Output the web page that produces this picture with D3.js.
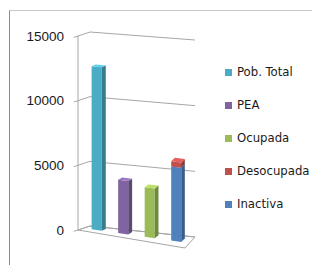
<!DOCTYPE html>
<html lang="es">
<head>
<meta charset="UTF-8">
<title>Poblacion</title>
<script src="https://d3js.org/d3.v7.min.js"></script>
<style>
    body { margin: 0; background: #fff; }
    .grid { stroke: #a6a6a6; stroke-width: 1; fill: none; }
    .tick-label { font-family: "Liberation Sans", Arial, sans-serif; font-size: 13.5px; fill: #1a1a1a; }
    .legend text { font-family: "DejaVu Sans Condensed", "DejaVu Sans", sans-serif; font-size: 13px; fill: #1a1a1a; }
</style>
</head>
<body>
<svg width="312" height="265"></svg>
<script>
    // data
    const series = ["Pob. Total", "PEA", "Ocupada", "Desocupada", "Inactiva"];
    const values = [12600, 4100, 3800, 400, 5650];
    const slots = ["Pob. Total", "PEA", "Ocupada", "Inactiva"];
    const slotOf = ["Pob. Total", "PEA", "Ocupada", "Inactiva", "Inactiva"];
    const stackOrder = ["Pob. Total", "PEA", "Ocupada", "Inactiva", "Desocupada"];
    const ticks = [0, 5000, 10000, 15000];
    const colors = ["#4bacc6", "#8064a2", "#9bbb59", "#c0504d", "#4f81bd"];

    const svg = d3.select("svg");

    // outer frame
    svg.append("line").attr("x1", 9.5).attr("y1", 10.5).attr("x2", 312).attr("y2", 10.5)
        .attr("stroke", "#c6c6c6");
    svg.append("line").attr("x1", 9.5).attr("y1", 10.5).attr("x2", 9.5).attr("y2", 265)
        .attr("stroke", "#8c8c8c");

    // pseudo 3d projection: u across, v value, w depth (0 front, 1 back)
    const xFront = d3.scaleLinear().domain([0, 1]).range([78, 185]);
    const xBack = d3.scaleLinear().domain([0, 1]).range([90, 195]);
    const yFront = d3.scaleLinear().domain([0, 1]).range([230, 248]);
    const yBack = d3.scaleLinear().domain([0, 1]).range([226, 237]);
    const hLeft = d3.scaleLinear().domain([0, 15000]).range([0, 194]);
    const hRight = d3.scaleLinear().domain([0, 15000]).range([0, 197]);

    function P(u, v, w) {
        const x = (1 - w) * xFront(u) + w * xBack(u);
        const y0 = (1 - w) * yFront(u) + w * yBack(u);
        const h = (1 - u) * hLeft(v) + u * hRight(v);
        return [x, y0 - h];
    }
    const line = d3.line();

    // floor
    svg.append("path")
        .attr("d", line([P(0, 0, 0), P(1, 0, 0), P(1, 0, 1), P(0, 0, 1)]) + "Z")
        .attr("fill", "#fff").attr("class", "grid");

    // gridlines on side wall and back wall
    ticks.forEach(t => {
        svg.append("path").attr("class", "grid")
            .attr("d", line([P(0, t, -0.35), P(0, t, 1), P(1, t, 1)]));
        svg.append("text").attr("class", "tick-label")
            .attr("x", P(0, t, 0)[0] - 14)
            .attr("y", P(0, t, 0)[1] + 1)
            .attr("text-anchor", "end")
            .attr("dominant-baseline", "middle")
            .text(t);
    });
    // vertical axis edge
    svg.append("path").attr("class", "grid").attr("stroke", "#8c8c8c")
        .attr("d", line([P(0, 0, 0), P(0, 15000, 0)]));

    // bars
    const xBand = d3.scaleBand().domain(slots).range([0, 1])
        .paddingInner(0.62).paddingOuter(0.31);
    const w0 = 0.45, w1 = 0.8;

    const bases = {};
    const segs = stackOrder.map(name => {
        const i = series.indexOf(name);
        const slot = slotOf[i];
        const b = bases[slot] || 0;
        bases[slot] = b + values[i];
        return { name, v0: b, v1: b + values[i], color: colors[i], slot };
    });

    const g = svg.append("g");
    segs.forEach(s => {
        const u0 = xBand(s.slot), u1 = u0 + xBand.bandwidth();
        const c = d3.color(s.color);
        const front = [P(u0, s.v0, w0), P(u1, s.v0, w0), P(u1, s.v1, w0), P(u0, s.v1, w0)];
        const side = [P(u1, s.v0, w0), P(u1, s.v0, w1), P(u1, s.v1, w1), P(u1, s.v1, w0)];
        const top = [P(u0, s.v1, w0), P(u1, s.v1, w0), P(u1, s.v1, w1), P(u0, s.v1, w1)];
        g.append("path").attr("d", line(front) + "Z").attr("fill", s.color);
        g.append("path").attr("d", line(side) + "Z").attr("fill", c.darker(0.9));
        g.append("path").attr("d", line(top) + "Z").attr("fill", c.brighter(0.5));
    });

    // legend
    const legend = svg.append("g").attr("class", "legend");
    const legY = d3.scalePoint().domain(series).range([72.5, 204.5]);
    series.forEach((name, i) => {
        legend.append("rect").attr("x", 225).attr("y", legY(name) - 3.5)
            .attr("width", 7).attr("height", 7).attr("fill", colors[i]);
        legend.append("text").attr("x", 237).attr("y", legY(name))
            .attr("dominant-baseline", "middle").text(name);
    });
</script>
</body>
</html>
